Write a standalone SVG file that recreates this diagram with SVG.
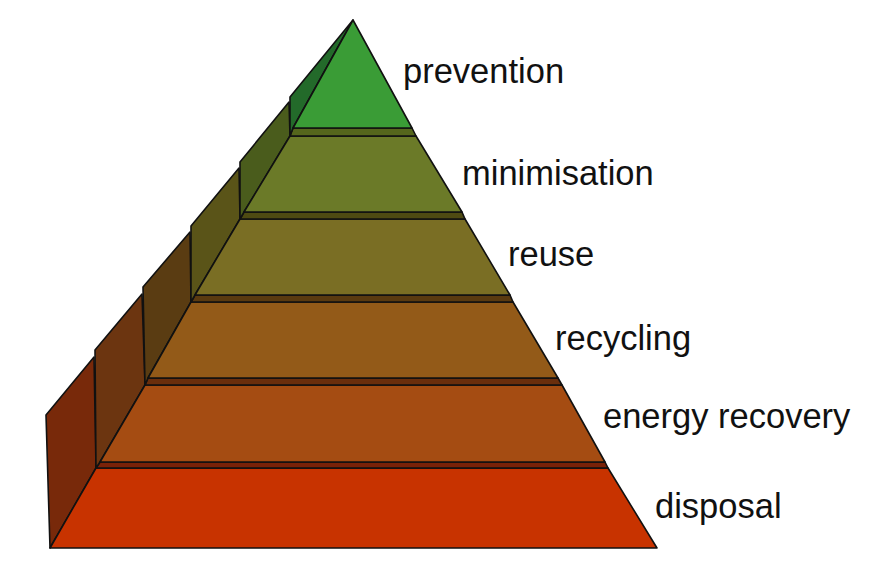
<svg xmlns="http://www.w3.org/2000/svg" width="882" height="587" viewBox="0 0 882 587">
<style>
polygon{stroke:#111;stroke-width:1.6;stroke-linejoin:round}
text{font-family:"Liberation Sans",Arial,sans-serif;font-size:34.5px;fill:#111}
</style>
<rect width="882" height="587" fill="#fff"/>
<g id="disposal">
<polygon points="50,548 96,468 94,357 46,415" fill="#78290a"/>
<polygon points="50,548 657,548 608,468 96,468" fill="#c83300"/>
<polygon points="96,468 608,468 605,462 100,462" fill="#7a2208"/>
<text x="655" y="518">disposal</text>
</g>
<g id="energy-recovery">
<polygon points="96,468 100,462 145,385 142,294 95,350" fill="#6c3510"/>
<polygon points="100,462 605,462 562,385 145,385" fill="#a54c12"/>
<polygon points="145,385 562,385 558,378 148,378" fill="#6a2e0c"/>
<text x="603" y="428">energy recovery</text>
</g>
<g id="recycling">
<polygon points="145,385 148,378 191,302 190,232 143,287" fill="#5a3c12"/>
<polygon points="148,378 558,378 513,302 191,302" fill="#935a18"/>
<polygon points="191,302 513,302 510,295 195,295" fill="#5a3a10"/>
<text x="555" y="350">recycling</text>
</g>
<g id="reuse">
<polygon points="191,302 195,295 240,219 239,168 191,226" fill="#5a5418"/>
<polygon points="195,295 510,295 465,219 240,219" fill="#7a6e24"/>
<polygon points="240,219 465,219 462,212 244,212" fill="#4e4a12"/>
<text x="508" y="266">reuse</text>
</g>
<g id="minimisation">
<polygon points="240,219 244,212 290,136 289,102 240,162" fill="#4a5c1c"/>
<polygon points="244,212 462,212 416,136 290,136" fill="#6b7a28"/>
<polygon points="290,136 416,136 412,128 293,128" fill="#55661c"/>
<text x="462" y="185">minimisation</text>
</g>
<g id="prevention">
<polygon points="290,136 293,128 353,20 290,97" fill="#236a2a"/>
<polygon points="293,128 412,128 353,20" fill="#3a9c36"/>
<text x="403" y="83">prevention</text>
</g>
<g id="connectors"></g>
</svg>
